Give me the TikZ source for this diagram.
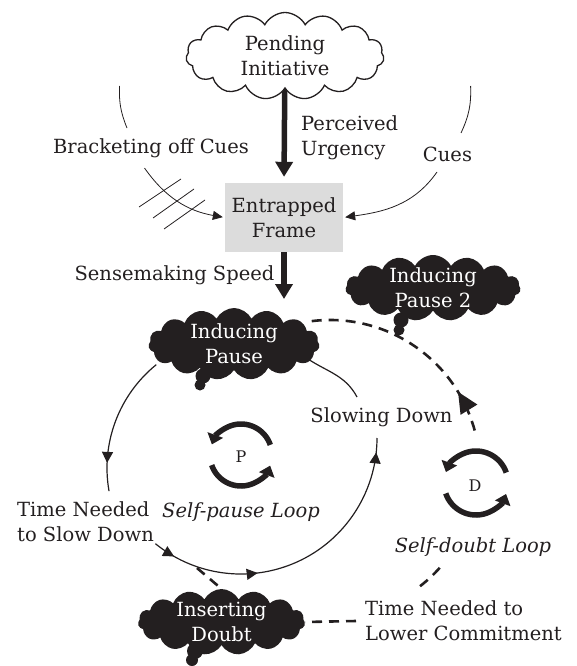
\documentclass[tikz,border=0pt]{standalone}
\usepackage{fontspec}
\setmainfont{DejaVu Serif}
\usetikzlibrary{shapes.symbols,arrows.meta,decorations.markings}
\definecolor{ink}{HTML}{231F20}
\definecolor{framegray}{HTML}{DCDCDC}
\pgfdeclarelayer{back}
\pgfsetlayers{back,main}
\tikzset{
  txt/.style={font=\fontsize{19.5}{25}\selectfont, text=ink, inner sep=0pt, align=left},
  ctxt/.style={txt, align=center},
  iconletter/.style={font=\fontsize{16}{20}\selectfont, text=ink, inner sep=0pt},
  puff/.style={cloud, cloud puffs=15, cloud puff arc=125, cloud ignores aspect, inner sep=0pt},
  darkpuff/.style={puff, fill=ink},
  lightpuff/.style={puff, draw=ink, line width=1.3pt, fill=white},
  heavy/.style={draw=ink, line width=5.5pt, -{Triangle[width=17pt,length=15pt]}},
  thinline/.style={draw=ink, line width=1.2pt},
  hairline/.style={draw=ink, line width=0.8pt},
  sharp/.style={-{Triangle[width=9pt,length=10pt]}},
  dashlink/.style={draw=ink, line width=2.6pt, dash pattern=on 10pt off 7pt},
  loopicon/.style={draw=ink, line width=5.5pt, -{Triangle[width=16pt,length=10pt]}},
}
\begin{document}
\begin{tikzpicture}[x=1pt,y=-1pt]
\useasboundingbox (0,0) rectangle (576,666);

% ---- clouds and the frame box ----
\node[lightpuff, minimum width=198pt, minimum height=87pt] (pend) at (285,56) {};
\node[ctxt] (pendtext) at (pend.center) {Pending\\Initiative};

\node[fill=framegray, inner sep=0pt, minimum width=118pt, minimum height=69pt] (frame) at (284,217.5) {};
\node[ctxt] (frametext) at (frame.center) {Entrapped\\Frame};

\node[darkpuff, minimum width=171pt, minimum height=72pt] (pause) at (234,344) {};
\fill[ink] (203,376) circle (7.5);
\fill[ink] (200,385) circle (5.5);
\node[ctxt, text=white] (pausetext) at (pause.center) {Inducing\\Pause};

\node[darkpuff, minimum width=175pt, minimum height=66pt] (pausetwo) at (433,288) {};
\fill[ink] (401,320) circle (7.5);
\fill[ink] (399,330) circle (5.5);
\node[ctxt, text=white] (pausetwotext) at (pausetwo.center) {Inducing\\Pause 2};

\node[darkpuff, minimum width=167pt, minimum height=66pt] (doubt) at (221.5,622) {};
\fill[ink] (195,651) circle (8);
\fill[ink] (192,660) circle (6);
\node[ctxt, text=white] (doubttext) at (doubt.center) {Inserting\\Doubt};

% ---- labels ----
\node[txt, anchor=west] (urgency) at (301,138) {Perceived\\Urgency};
\node[txt] (bracket) at (151,148) {Bracketing off Cues};
\node[txt] (cues) at (447.5,154) {Cues};
\node[txt] (speed) at (174.5,275) {Sensemaking Speed};
\node[txt] (slowing) at (381.5,417) {Slowing Down};
\node[txt, anchor=west] (slowtime) at (17,522) {Time Needed\\to Slow Down};
\node[txt] (selfpause) at (241,512) {\textit{Self-pause Loop}};
\node[txt] (selfdoubt) at (473,547) {\textit{Self-doubt Loop}};
\node[txt, anchor=west] (committime) at (365,621) {Time Needed to\\Lower Commitment};

% ---- loop polarity icons ----
\node[iconletter] (pmark) at (241,457) {P};
\node[iconletter] (dmark) at (475,486) {D};
\coordinate (picon) at (241,455);
\coordinate (dicon) at (476,483);
\draw[loopicon] (picon) ++(-19:31) arc[start angle=-19, end angle=-160, radius=31];
\draw[loopicon] (picon) ++(161:31) arc[start angle=161, end angle=20, radius=31];
\draw[loopicon] (dicon) ++(-19:32) arc[start angle=-19, end angle=-160, radius=32];
\draw[loopicon] (dicon) ++(161:32) arc[start angle=161, end angle=20, radius=32];

% ---- connectors ----
\coordinate (pausein) at (284,299);
\coordinate (ploopa) at (240,468);
\coordinate (ploopb) at (241,438);
\coordinate (dloop) at (330,470);

\begin{pgfonlayer}{back}
  % urgency and speed
  \draw[heavy, shorten >=6pt] (pend.center) -- (frame.north);
  \draw[heavy] (frame.south) -- (pausein);

  % cues, one bracketed off
  \draw[hairline] (119.5,86) to[out=-92,in=112] (127,128);
  \draw[hairline, sharp, shorten >=2pt] (144.5,168) to[out=-55,in=170] (frame.west);
  \draw[hairline] (139,207) -- (181,179);
  \draw[hairline] (153,218) -- (194,189);
  \draw[hairline] (164,229) -- (205,200);
  \draw[hairline] (470.6,86) to[out=-88,in=65] (461,133);
  \draw[hairline, sharp, shorten >=2pt] (437,172) to[out=-125,in=8] (frame.east);

  % self-pause loop
  \draw[thinline, postaction=decorate, decoration={markings,
      mark=at position 0.8 with {\arrow{Triangle[width=11pt,length=11pt]}}}]
    (ploopa) ++(231:133) arc[start angle=231, end angle=170, radius=133];
  \draw[thinline, postaction=decorate, decoration={markings,
      mark=at position 0.074 with {\arrow{Triangle[width=11pt,length=11pt]}},
      mark=at position 0.357 with {\arrow{Triangle[width=11pt,length=11pt]}},
      mark=at position 0.953 with {\arrow{Triangle[width=11pt,length=11pt]}}}]
    (ploopb) ++(129:136) arc[start angle=129, end angle=0, radius=136];
  \draw[thinline] (357,397) to[out=118,in=-35] (305,357);

  % self-doubt loop
  \draw[dashlink, postaction=decorate, decoration={markings,
      mark=at position 0.79 with {\arrowreversed{Triangle[width=19pt,length=21pt]}}}]
    (dloop) ++(263:150) arc[start angle=263, end angle=346, radius=150];
  \draw[dashlink] (dloop) ++(41.7:147) arc[start angle=41.7, end angle=54, radius=147];
  \draw[dashlink] ([xshift=-9pt]committime.west) -- (doubt.east);
  \draw[dashlink] (197,568) -- (doubt.north);
\end{pgfonlayer}
\end{tikzpicture}
\end{document}
